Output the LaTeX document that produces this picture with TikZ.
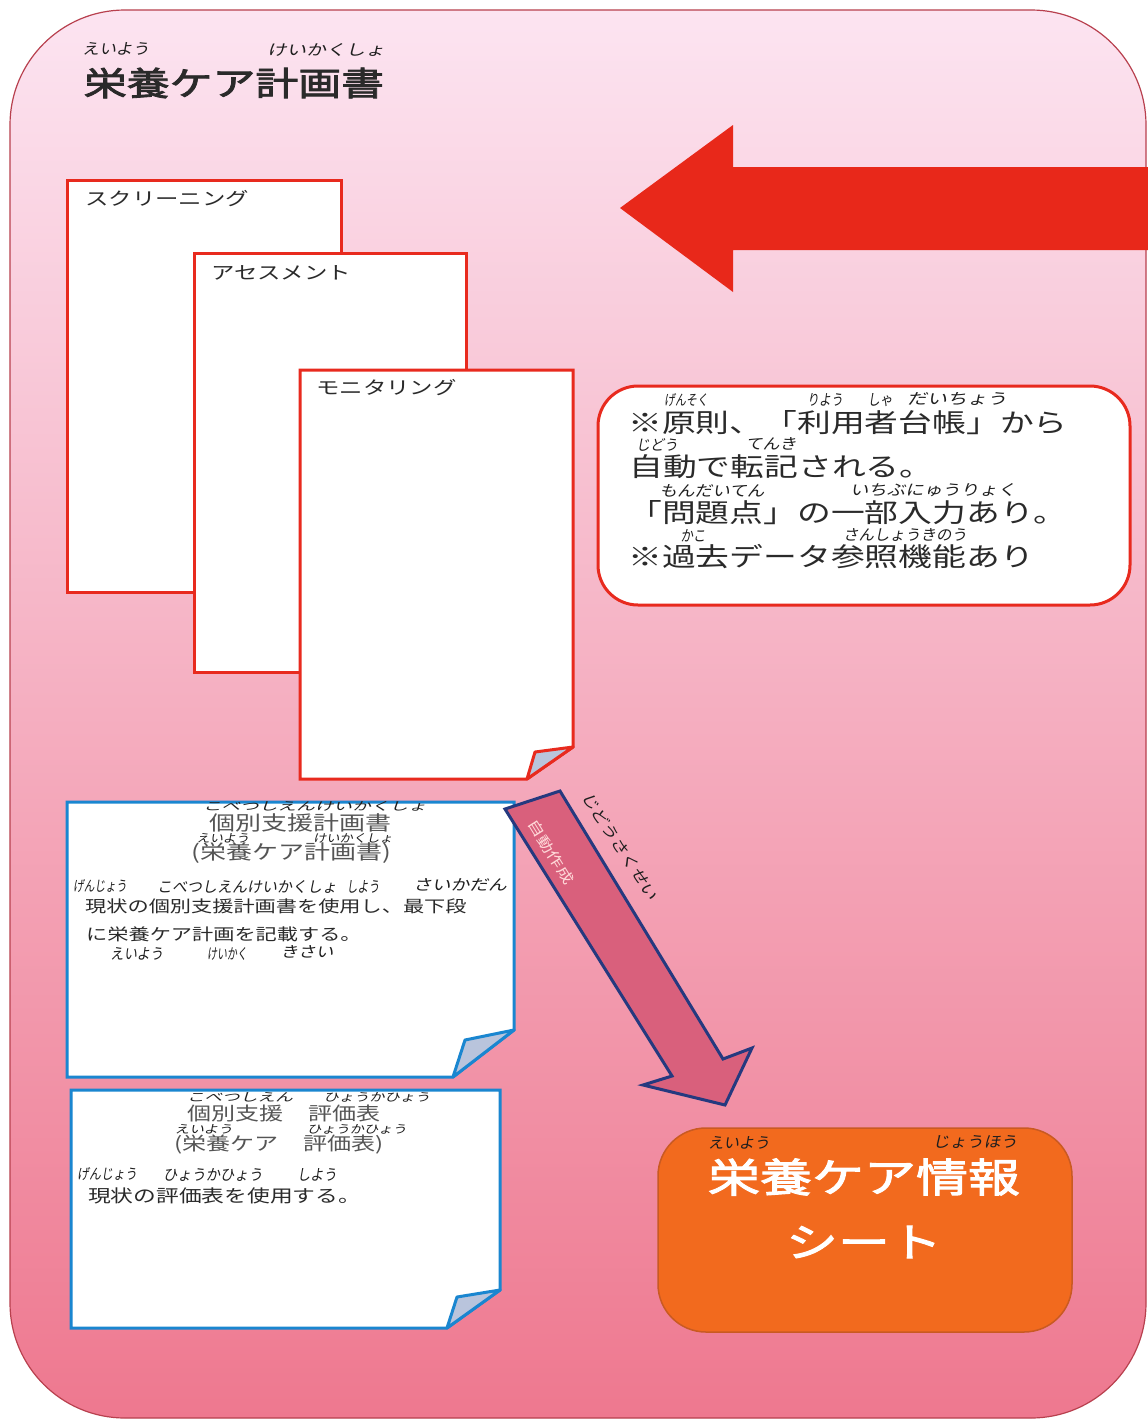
\documentclass[tikz,border=0pt]{standalone}
\usepackage{fontspec}
\usepackage{graphicx}
\setmainfont{Noto Sans CJK JP}[FakeStretch=1.3, AutoFakeBold=2.5]
\newfontfamily\hw{Noto Sans CJK JP}[FakeSlant=0.18]
\newcommand\furi[2]{\resizebox{#1pt}{12pt}{\hw #2}}
\newcommand\furis[2]{\resizebox{#1pt}{9pt}{\hw #2}}
\definecolor{bgTop}{HTML}{FCE4F1}
\definecolor{bgMid}{HTML}{F6B2C8}
\definecolor{bgBot}{HTML}{EE788F}
\definecolor{frameLine}{HTML}{B8404E}
\definecolor{bigRed}{HTML}{E8281A}
\definecolor{pageRed}{HTML}{E82A1E}
\definecolor{pageBlue}{HTML}{1A86D0}
\definecolor{foldFill}{HTML}{B9C4DC}
\definecolor{arrFill}{HTML}{D9607C}
\definecolor{arrLine}{HTML}{25397F}
\definecolor{orangeFill}{HTML}{F26A1E}
\definecolor{orangeLine}{HTML}{C95A22}
\definecolor{txtDark}{HTML}{2A2A2A}
\definecolor{txtGray}{HTML}{555555}
\definecolor{hwInk}{HTML}{1E1E1E}
\tikzset{
  redpage/.style={draw=pageRed, line width=3pt, fill=white, line join=miter},
  bluepage/.style={draw=pageBlue, line width=3pt, fill=white, line join=miter},
  redfold/.style={draw=pageRed, line width=3pt, fill=foldFill, line join=round},
  bluefold/.style={draw=pageBlue, line width=3pt, fill=foldFill, line join=round},
  lbl/.style={inner sep=0pt, text=txtDark, font=\fontsize{18}{18}\selectfont, anchor=west},
  infotxt/.style={inner sep=0pt, text=txtDark, font=\fontsize{26}{26}\selectfont, anchor=west},
  hwn/.style={inner sep=0pt, text=hwInk},
}
\begin{document}
\begin{tikzpicture}[x=1pt,y=-1pt]
\useasboundingbox (0,0) rectangle (1148,1422);
\fill[white] (0,0) rectangle (1148,1422);
% background frame
\shade[top color=bgTop, middle color=bgMid, bottom color=bgBot, rounded corners=115pt]
  (10,10) rectangle (1146,1418);
\draw[frameLine, line width=1.2pt, rounded corners=115pt] (10,10) rectangle (1146,1418);

% title
\node[inner sep=0pt, text=txtDark, font=\bfseries\fontsize{33}{33}\selectfont] (title) at (234,83) {栄養ケア計画書};
\node[hwn] (f1) at (116,49) {\furi{67}{えいよう}};
\node[hwn] (f2) at (326,50) {\furi{118}{けいかくしょ}};

% big red arrow
\fill[bigRed] (620,208) -- (733,125) -- (733,167) -- (1148,167) -- (1148,250) -- (733,250) -- (733,292) -- cycle;

% stacked pages
\draw[redpage] (67,180) rectangle (341,592);
\node[lbl] (lscr) at (85,199) {スクリーニング};
\draw[redpage] (194,253) rectangle (466,672);
\node[lbl] (lass) at (211,273) {アセスメント};
\draw[redpage] (300,370) -- (573,370) -- (573,747) -- (527,779) -- (300,779) -- cycle;
\draw[redfold] (573,747) -- (535,752) -- (527,779) -- cycle;
\node[lbl] (lmon) at (316,388) {モニタリング};

% info box
\draw[draw=pageRed, line width=3pt, fill=white, rounded corners=40pt] (598,386) rectangle (1130,605);
\node[infotxt] (i1) at (628,423) {※原則、「利用者台帳」から};
\node[infotxt] (i2) at (629,467) {自動で転記される。};
\node[infotxt] (i3) at (628,513) {「問題点」の一部入力あり。};
\node[infotxt] (i4) at (628,557) {※過去データ参照機能あり};
\node[hwn] (f3) at (686,400) {\furi{44}{げんそく}};
\node[hwn] (f4) at (825,400) {\furi{36}{りよう}};
\node[hwn] (f5) at (880,400) {\furi{25}{しゃ}};
\node[hwn] (f6) at (957,399) {\furi{100}{だいちょう}};
\node[hwn] (f7) at (657,445) {\furi{42}{じどう}};
\node[hwn] (f8) at (771,444) {\furi{51}{てんき}};
\node[hwn] (f9) at (712,491) {\furi{105}{もんだいてん}};
\node[hwn] (f10) at (933,490) {\furi{166}{いちぶにゅうりょく}};
\node[hwn] (f11) at (693,536) {\furi{25}{かこ}};
\node[hwn] (f12) at (905,535) {\furi{124}{さんしょうきのう}};

% blue box 1
\draw[bluepage] (67,802) -- (514,802) -- (514,1030) -- (453,1077) -- (67,1077) -- cycle;
\draw[bluefold] (514,1030) -- (465,1040) -- (453,1077) -- cycle;
\node[inner sep=0pt, text=txtGray, font=\fontsize{20}{20}\selectfont] (b1a) at (300,823) {個別支援計画書};
\node[inner sep=0pt, text=txtGray, font=\fontsize{20}{20}\selectfont] (b1b) at (291,853) {(栄養ケア計画書)};
\node[inner sep=0pt, text=txtDark, font=\fontsize{16.3}{16.3}\selectfont, anchor=west] (b1c) at (85,906) {現状の個別支援計画書を使用し、最下段};
\node[inner sep=0pt, text=txtDark, font=\fontsize{16.3}{16.3}\selectfont, anchor=west] (b1d) at (86,934) {に栄養ケア計画を記載する。};
\node[hwn] (f13) at (315,806) {\furis{224}{こべつしえんけいかくしょ}};
\node[hwn] (f14) at (223,838) {\furis{53}{えいよう}};
\node[hwn] (f15) at (353,838) {\furis{80}{けいかくしょ}};
\node[hwn] (f16) at (100,886) {\furi{54}{げんじょう}};
\node[hwn] (f17) at (247,887) {\furi{180}{こべつしえんけいかくしょ}};
\node[hwn] (f18) at (363,887) {\furi{33}{しよう}};
\node[hwn] (f19) at (460,885) {\furi{94}{さいかだん}};
\node[hwn] (f20) at (137,954) {\furi{53}{えいよう}};
\node[hwn] (f21) at (227,954) {\furi{40}{けいかく}};
\node[hwn] (f22) at (307,952) {\furi{53}{きさい}};

% blue box 2
\draw[bluepage] (71,1090) -- (500,1090) -- (500,1290) -- (447,1328) -- (71,1328) -- cycle;
\draw[bluefold] (500,1290) -- (457,1297) -- (447,1328) -- cycle;
\node[inner sep=0pt, text=txtGray, font=\fontsize{18.5}{18.5}\selectfont] (b2a) at (284,1113) {個別支援　評価表};
\node[inner sep=0pt, text=txtGray, font=\fontsize{18.5}{18.5}\selectfont] (b2b) at (279,1145) {(栄養ケア　評価表)};
\node[inner sep=0pt, text=txtDark, font=\fontsize{17.5}{17.5}\selectfont, anchor=west] (b2c) at (88,1196) {現状の評価表を使用する。};
\node[hwn] (f23) at (240,1097) {\furis{106}{こべつしえん}};
\node[hwn] (f24) at (377,1097) {\furis{107}{ひょうかひょう}};
\node[hwn] (f25) at (204,1129) {\furis{58}{えいよう}};
\node[hwn] (f26) at (357,1129) {\furis{100}{ひょうかひょう}};
\node[hwn] (f27) at (107,1174) {\furi{60}{げんじょう}};
\node[hwn] (f28) at (213,1175) {\furi{100}{ひょうかひょう}};
\node[hwn] (f29) at (317,1175) {\furi{40}{しよう}};

% diagonal arrow
\draw[fill=arrFill, draw=arrLine, line width=3pt, line join=miter]
  (505,809) -- (560,791) -- (723,1059) -- (752,1048) -- (725,1105) -- (643,1085) -- (672,1076) -- cycle;
\node[inner sep=0pt, rotate=-58, text=pink!60!white, font=\fontsize{14}{14}\selectfont] (jd) at (551,852) {自動作成};
\node[hwn, rotate=-57] (f32) at (620,846) {\furi{126}{じどうさくせい}};

% orange box
\draw[fill=orangeFill, draw=orangeLine, line width=1.5pt, rounded corners=48pt] (658,1128) rectangle (1072,1332);
\node[inner sep=0pt, text=white, font=\bfseries\fontsize{40}{40}\selectfont] (o1) at (864,1177) {栄養ケア情報};
\node[inner sep=0pt, text=white, font=\bfseries\fontsize{40}{40}\selectfont] (o2) at (864,1242) {シート};
\node[hwn] (f30) at (739,1143) {\furi{62}{えいよう}};
\node[hwn] (f31) at (975,1142) {\furi{85}{じょうほう}};
\end{tikzpicture}
\end{document}
